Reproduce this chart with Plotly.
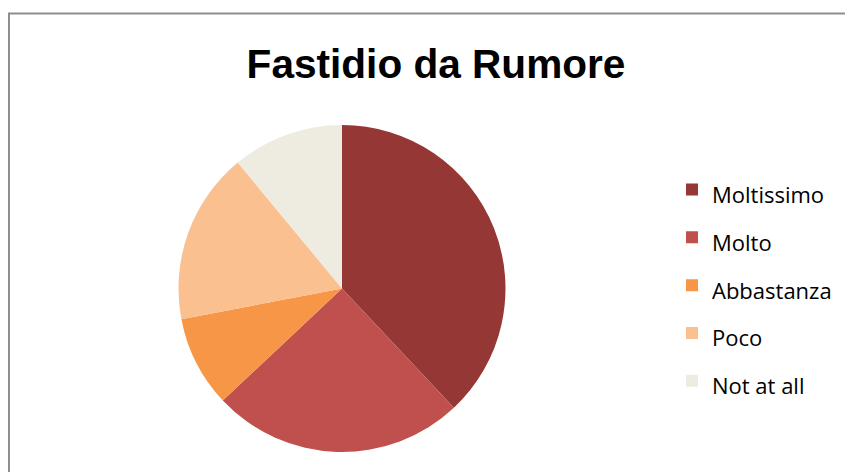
import plotly.graph_objects as go

categories = ["Moltissimo", "Molto", "Abbastanza", "Poco", "Not at all"]
values = [38, 25, 9, 17, 11]
colors = ["#953735", "#C0504D", "#F79646", "#FAC090", "#EEECE1"]
title_text = "Fastidio da Rumore"

W, H = 853, 472
OFF = 8  # page body margin offset
legend_text_size = 22

fig = go.Figure(
    go.Pie(
        labels=["<span style='font-size:%dpx'>%s</span>" % (legend_text_size, c) for c in categories],
        values=values,
        sort=False,
        direction="clockwise",
        rotation=0,
        textinfo="none",
        hoverinfo="label+percent",
        marker=dict(colors=colors, line=dict(width=0)),
        domain=dict(
            x=[(342 - OFF - 163.5) / W, (342 - OFF + 163.5) / W],
            y=[1 - (288.5 - OFF + 163.5) / H, 1 - (288.5 - OFF - 163.5) / H],
        ),
    )
)

fig.update_layout(
    width=W,
    height=H,
    margin=dict(l=0, r=0, t=0, b=0),
    paper_bgcolor="white",
    plot_bgcolor="white",
    title=dict(
        text="<b>" + title_text + "</b>",
        font=dict(family="Liberation Sans", size=40.6, color="black"),
        x=(436 - OFF) / W,
        xanchor="center",
        xref="paper",
        yref="container",
        y=1 - (64 - OFF) / H,
        yanchor="middle",
    ),
    legend=dict(
        font=dict(family="Open Sans", size=34.5, color="black"),
        x=(672 - OFF) / W,
        xanchor="left",
        y=1 - (285.5 - OFF) / H,
        yanchor="middle",
        itemwidth=30,
        bgcolor="rgba(0,0,0,0)",
    ),
    shapes=[
        dict(
            type="rect",
            xref="paper",
            yref="paper",
            x0=(9 - OFF) / W,
            x1=1.05,
            y0=-0.05,
            y1=1 - (13.5 - OFF) / H,
            line=dict(color="#8E8E8E", width=2),
            fillcolor="rgba(0,0,0,0)",
            layer="below",
        )
    ],
)

fig.write_html("out.html")
